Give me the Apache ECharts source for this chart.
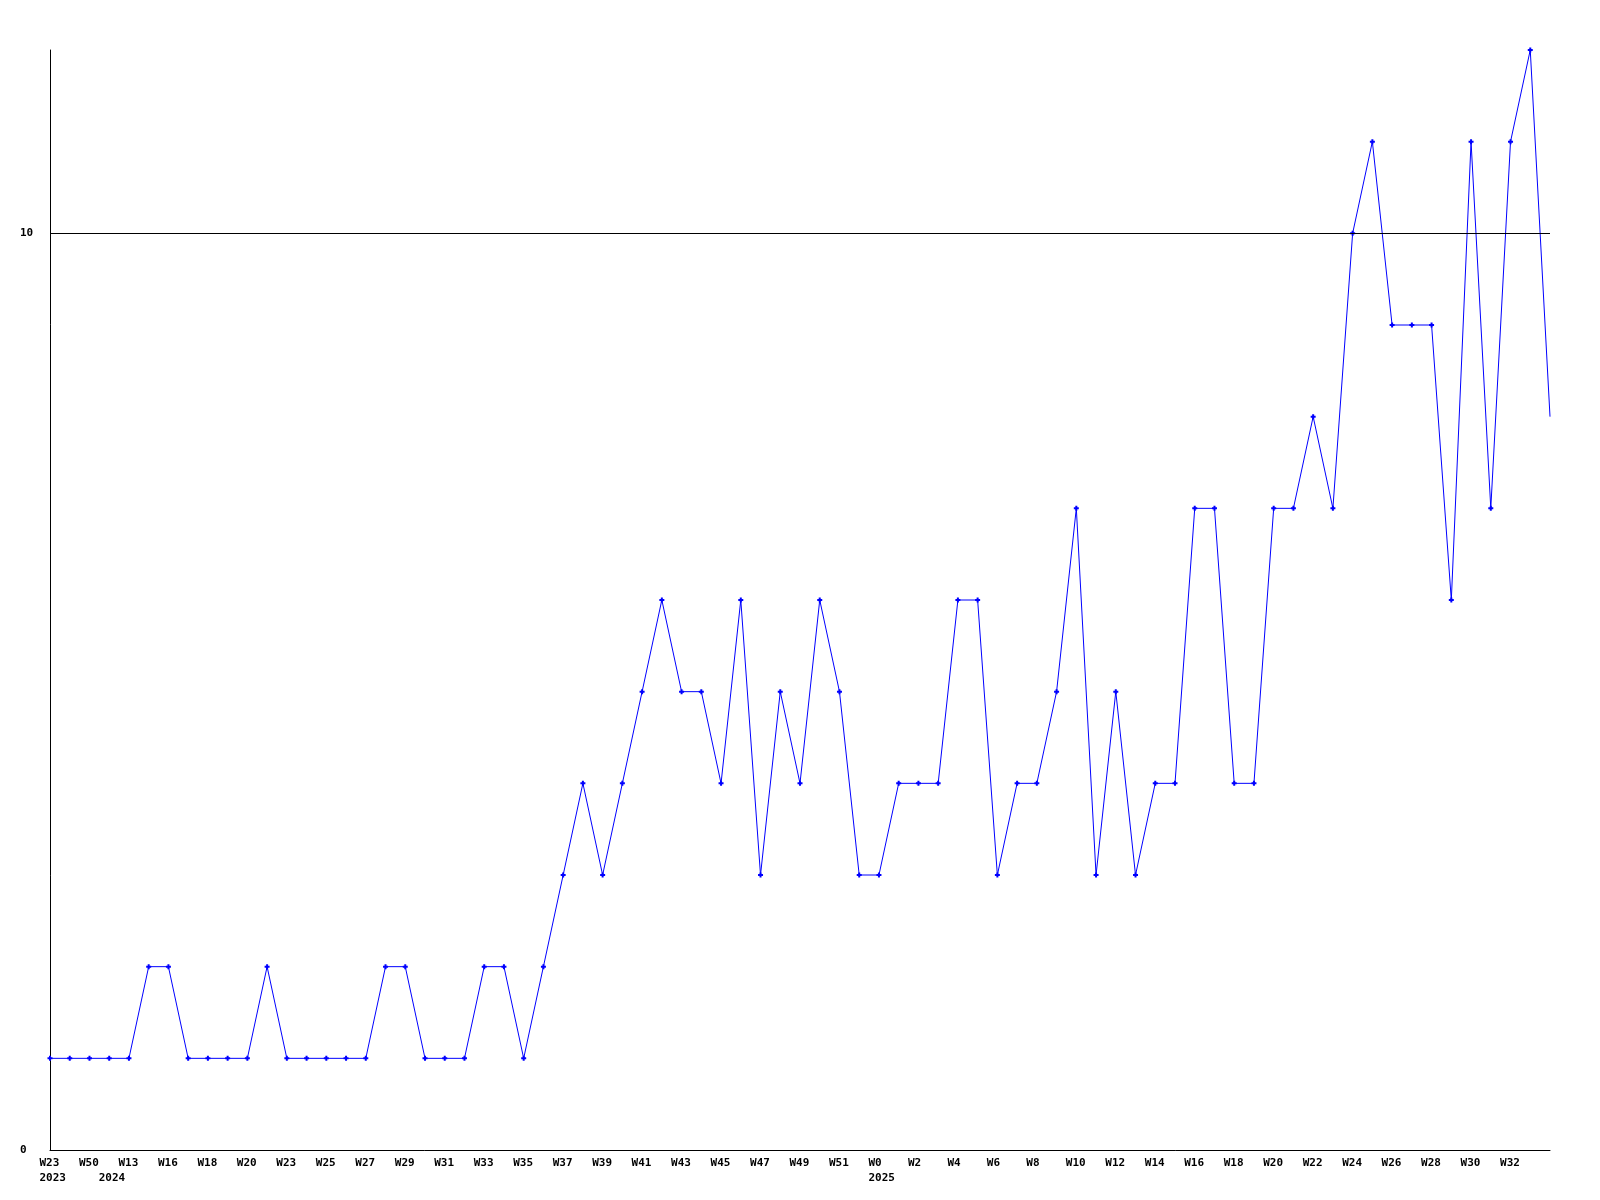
<!DOCTYPE html>
<html>
<head>
<meta charset="utf-8">
<script src="https://cdn.jsdelivr.net/npm/echarts@6/dist/echarts.min.js"></script>
<style>html,body{margin:0;padding:0;background:#fff}#c{width:1600px;height:1200px}</style>
</head>
<body>
<div id="c"></div>
<script>
// Week labels per point (odd ones are not displayed in the reference, estimated)
const weeks = ['W23','W49','W50','W12','W13','W15','W16','W17','W18','W19','W20','W22',
  'W23','W24','W25','W26','W27','W28','W29','W30','W31','W32','W33','W34','W35','W36','W37','W38','W39','W40',
  'W41','W42','W43','W44','W45','W46','W47','W48','W49','W50','W51','W52',
  'W0','W1','W2','W3','W4','W5','W6','W7','W8','W9','W10','W11','W12','W13','W14','W15','W16','W17','W18','W19',
  'W20','W21','W22','W23','W24','W25','W26','W27','W28','W29','W30','W31','W32','W33','W34'];
const years = [2023,2023,2023,
  2024,2024,2024,2024,2024,2024,2024,2024,2024,2024,2024,2024,2024,2024,2024,2024,2024,2024,2024,2024,2024,2024,2024,
  2024,2024,2024,2024,2024,2024,2024,2024,2024,2024,2024,2024,2024,2024,2024,2024,
  2025,2025,2025,2025,2025,2025,2025,2025,2025,2025,2025,2025,2025,2025,2025,2025,2025,2025,2025,2025,
  2025,2025,2025,2025,2025,2025,2025,2025,2025,2025,2025,2025,2025,2025,2025];
const values = [1,1,1,1,1,2,2,1,1,1,1,2,1,1,1,1,1,2,2,1,1,1,2,2,1,2,3,4,3,4,
  5,6,5,5,4,6,3,5,4,6,5,3,3,4,4,4,6,6,3,4,4,5,7,3,5,3,4,4,7,7,
  4,4,7,7,8,7,10,11,9,9,9,6,11,7,11,12,8];
const yLabelValues = [0, 10];
const refLine = 10;

const categories = weeks.map((w, i) => years[i] + '-' + w);
const FONT = 'DejaVu Sans Mono';
const chart = echarts.init(document.getElementById('c'), null, {renderer: 'canvas'});
chart.setOption({
  animation: false,
  backgroundColor: '#ffffff',
  grid: {left: 50, right: 50, top: 50, bottom: 50, containLabel: false},
  xAxis: {
    type: 'category',
    data: categories,
    boundaryGap: false,
    axisLine: {lineStyle: {color: '#000', width: 1}},
    axisTick: {show: false},
    splitLine: {show: false},
    axisLabel: {
      interval: 0,
      margin: 6,
      align: 'center',
      lineHeight: 15,
      color: '#000',
      fontFamily: FONT,
      fontWeight: 'bold',
      fontSize: 11,
      formatter: function (v, i) {
        if (i === weeks.length - 1) return '';
        const first = i === 0 || years[i] !== years[i - 1];
        const l1 = (i % 2 === 0) ? '{w|' + weeks[i] + '}' : '{w| }';
        return first ? l1 + '\n{w|' + years[i] + '}' : (i % 2 === 0 ? l1 : '');
      },
      rich: {
        w: {width: 21, align: 'left', fontFamily: FONT, fontWeight: 'bold', fontSize: 11, color: '#000', lineHeight: 15}
      }
    }
  },
  yAxis: {
    type: 'value',
    min: 0, max: 12, interval: 10,
    axisLine: {show: true, lineStyle: {color: '#000', width: 1}},
    axisTick: {show: false},
    splitLine: {show: false},
    axisLabel: {
      margin: 30,
      align: 'left',
      color: '#000',
      fontFamily: FONT,
      fontWeight: 'bold',
      fontSize: 11,
      formatter: v => yLabelValues.indexOf(v) >= 0 ? String(v) : ''
    }
  },
  series: [{
    type: 'line',
    data: values.map((v, i) => i === values.length - 1 ? {value: v, symbol: 'none'} : v),
    symbol: 'path://M1.5,0H3.5V1.5H5V3.5H3.5V5H1.5V3.5H0V1.5H1.5Z',
    symbolSize: 5,
    showAllSymbol: true,
    itemStyle: {color: '#0000ff'},
    lineStyle: {color: '#0000ff', width: 1},
    markLine: {
      silent: true,
      symbol: 'none',
      label: {show: false},
      lineStyle: {color: '#000', width: 1, type: 'solid'},
      data: [{yAxis: refLine}]
    }
  }]
});
</script>
</body>
</html>
